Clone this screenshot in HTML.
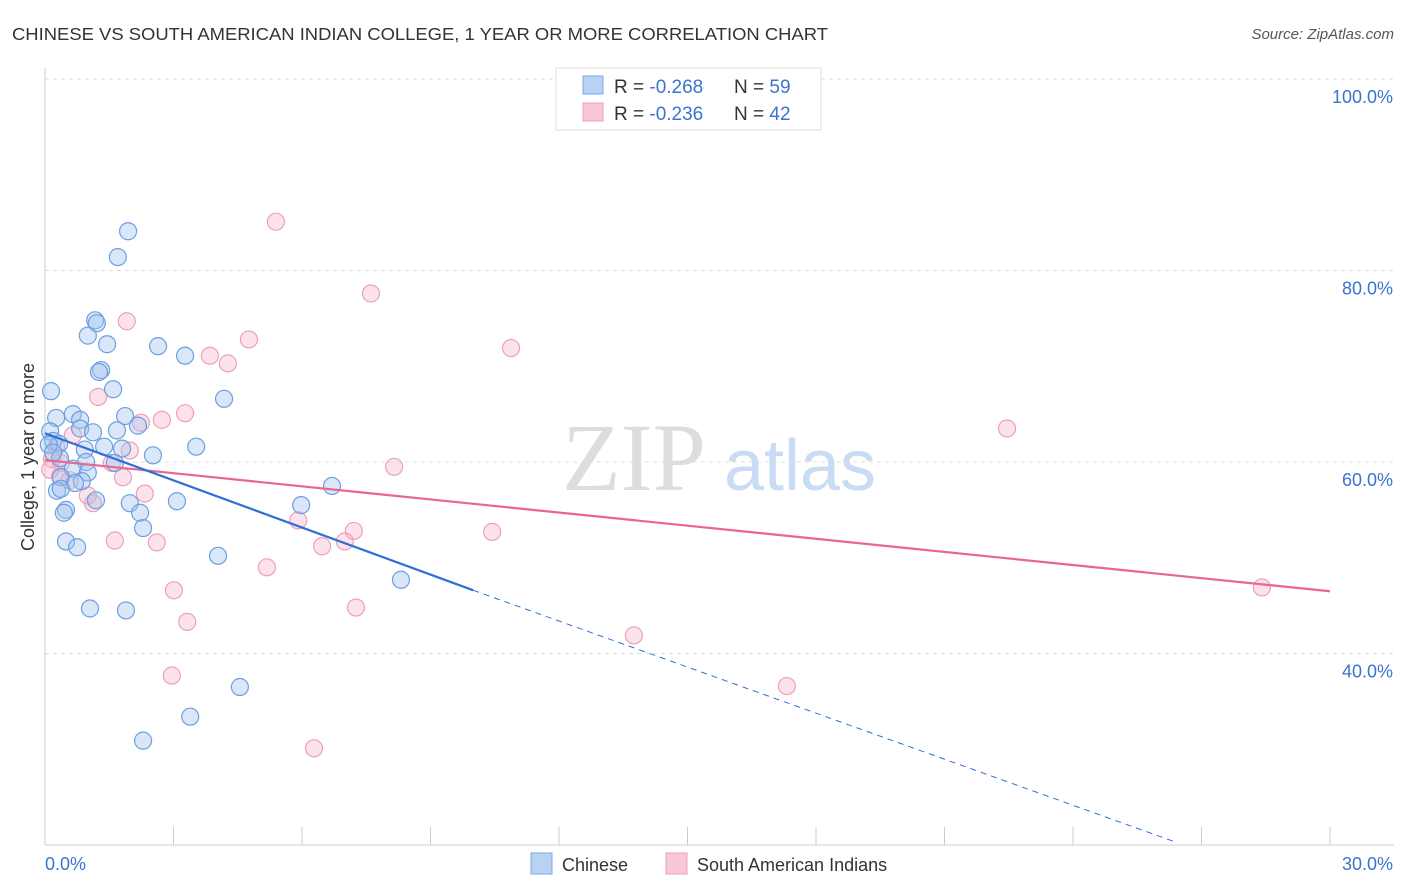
<!DOCTYPE html>
<html><head><meta charset="utf-8">
<style>
body{margin:0;background:#fff;font-family:"Liberation Sans",sans-serif;}
#wrap{position:relative;width:1406px;height:892px;overflow:hidden;}
</style></head>
<body>
<div id="wrap">
<svg id="chart" width="1406" height="892" xmlns="http://www.w3.org/2000/svg">
<text x="12" y="40" font-size="17.5" fill="#333" textLength="816" lengthAdjust="spacingAndGlyphs">CHINESE VS SOUTH AMERICAN INDIAN COLLEGE, 1 YEAR OR MORE CORRELATION CHART</text>
<text x="1394" y="39" font-size="15" fill="#555" font-style="italic" text-anchor="end">Source: ZipAtlas.com</text>
<text x="0" y="0" transform="translate(34,457) rotate(-90)" font-size="18" fill="#333" text-anchor="middle">College, 1 year or more</text>
<g>
<text x="634" y="490" font-size="96" fill="#ddd" font-family="Liberation Serif,serif" text-anchor="middle">ZIP</text>
<text x="800" y="490" font-size="72" fill="#c9dcf3" text-anchor="middle">atlas</text>
</g>
<g id="grid"></g><g id="marks"></g>
<g>
<rect x="556" y="68" width="265" height="62" fill="#fff" stroke="#ddd"/>
<rect x="583" y="76" width="20" height="18" fill="#b8d2f4" stroke="#7aaae8"/>
<rect x="583" y="103" width="20" height="18" fill="#f9c8d6" stroke="#eea0b8"/>
<text x="614" y="93" font-size="19" fill="#333">R = <tspan fill="#3a74d0">-0.268</tspan></text>
<text x="734" y="93" font-size="19" fill="#333">N = <tspan fill="#3a74d0">59</tspan></text>
<text x="614" y="120" font-size="19" fill="#333">R = <tspan fill="#3a74d0">-0.236</tspan></text>
<text x="734" y="120" font-size="19" fill="#333">N = <tspan fill="#3a74d0">42</tspan></text>
</g>
<g>
<rect x="531" y="853" width="21" height="21" fill="#b8d2f4" stroke="#7aaae8"/>
<text x="562" y="871" font-size="18" fill="#333">Chinese</text>
<rect x="666" y="853" width="21" height="21" fill="#f9c8d6" stroke="#eea0b8"/>
<text x="697" y="871" font-size="18" fill="#333">South American Indians</text>
</g>
</svg>
</div>
<script>
const blueX=[1.94,1.70,1.17,1.21,1.00,1.45,2.64,3.27,1.31,1.26,0.14,1.59,4.18,0.26,0.65,0.82,1.87,0.82,0.12,1.12,1.68,2.17,0.19,0.33,0.93,1.38,1.80,3.53,2.52,0.96,1.63,0.65,1.00,0.37,0.86,0.70,0.28,0.37,1.19,1.98,3.08,2.22,0.49,0.44,2.29,5.98,6.70,0.49,0.75,4.04,8.31,1.05,1.89,4.55,3.39,2.29,0.09,0.35,0.19];
const blueY=[84.1,81.4,74.8,74.5,73.2,72.3,72.1,71.1,69.6,69.4,67.4,67.6,66.6,64.6,65.0,64.4,64.8,63.5,63.2,63.1,63.3,63.8,62.2,61.9,61.3,61.6,61.4,61.6,60.7,60.0,59.9,59.3,58.9,58.4,58.0,57.8,57.0,57.2,56.0,55.7,55.9,54.7,55.0,54.7,53.1,55.5,57.5,51.7,51.1,50.2,47.7,44.7,44.5,36.5,33.4,30.9,61.8,60.4,61.0];
const pinkX=[5.39,7.61,1.91,10.88,4.76,3.85,4.27,1.24,3.27,2.73,2.24,22.46,0.65,0.26,1.98,1.56,0.37,8.15,0.16,0.35,1.82,2.33,1.00,1.12,5.91,7.21,10.44,1.63,2.61,6.47,7.00,5.18,3.01,28.41,7.26,3.32,13.75,2.96,17.32,6.28,0.12,0.58];
const pinkY=[85.1,77.6,74.7,71.9,72.8,71.1,70.3,66.8,65.1,64.4,64.1,63.5,62.8,61.6,61.2,59.9,59.9,59.5,60.3,58.5,58.4,56.7,56.5,55.7,53.9,52.8,52.7,51.8,51.6,51.2,51.7,49.0,46.6,46.9,44.8,43.3,41.9,37.7,36.6,30.1,59.2,58.1];
const blueTrend=[[0,63.0],[10,46.6]];
const blueTrendDash=[[10,46.6],[26.4,20.3]];
const pinkTrend=[[0,60.2],[30,46.5]];
const yTicks=[40,60,80,100];
const yTickLabels=["40.0%","60.0%","80.0%","100.0%"];
const xTicks=[0,3,6,9,12,15,18,21,24,27,30];

const X0=45,X1=1330,YB=845;
function sx(v){return X0+(v/30)*(X1-X0);}
function sy(v){return YB-(v-20)/20*191.5;}
const NS="http://www.w3.org/2000/svg";
function mk(tag,attrs,parent){const e=document.createElementNS(NS,tag);for(const k in attrs)e.setAttribute(k,attrs[k]);parent.appendChild(e);return e;}
const grid=document.getElementById('grid'),marks=document.getElementById('marks');
yTicks.forEach((t,i)=>{
  const l=mk('line',{x1:X0,x2:1394,y1:sy(t),y2:sy(t),stroke:'#ddd','stroke-dasharray':'4,4'},grid);
  
  
  const tx=mk('text',{x:1393,y:sy(t)+24,'font-size':18,fill:'#3a74d0','text-anchor':'end'},grid);
  tx.textContent=yTickLabels[i];
  
  
});
const ax=mk('line',{x1:X0,x2:X0,y1:68,y2:YB,stroke:'#ccc'},grid);


const bx=mk('line',{x1:X0,x2:1394,y1:YB,y2:YB,stroke:'#ccc'},grid);


xTicks.forEach(t=>{
  const l=mk('line',{x1:sx(t),x2:sx(t),y1:YB,y2:YB-18,stroke:'#ccc'},grid);
  
  
});
const xl0=mk('text',{x:45,y:870,'font-size':18,fill:'#3a74d0'},grid);xl0.textContent='0.0%';


const xl1=mk('text',{x:1393,y:870,'font-size':18,fill:'#3a74d0','text-anchor':'end'},grid);xl1.textContent='30.0%';



pinkX.forEach((v,i)=>{
  const c=mk('circle',{cx:sx(v),cy:sy(pinkY[i]),r:8.5,fill:'rgba(245,175,198,0.35)',stroke:'#eea0b8','stroke-width':1.2},marks);
  
  
});
blueX.forEach((v,i)=>{
  const c=mk('circle',{cx:sx(v),cy:sy(blueY[i]),r:8.5,fill:'rgba(160,196,240,0.4)',stroke:'#6d9fe0','stroke-width':1.2},marks);
  
  
});
function line(p,st,w,dash,name){
  const l=mk('line',{x1:sx(p[0][0]),y1:sy(p[0][1]),x2:sx(p[1][0]),y2:sy(p[1][1]),stroke:st,'stroke-width':w},marks);
  if(dash)l.setAttribute('stroke-dasharray',dash);
  
  
}
line(pinkTrend,'#e8668f',2.2,null,'trend-south-american-indian');
line(blueTrend,'#2f6fd6',2.2,null,'trend-chinese');
line(blueTrendDash,'#2f6fd6',1,'6,5','trend-chinese-extrapolated');
</script>
</body></html>
